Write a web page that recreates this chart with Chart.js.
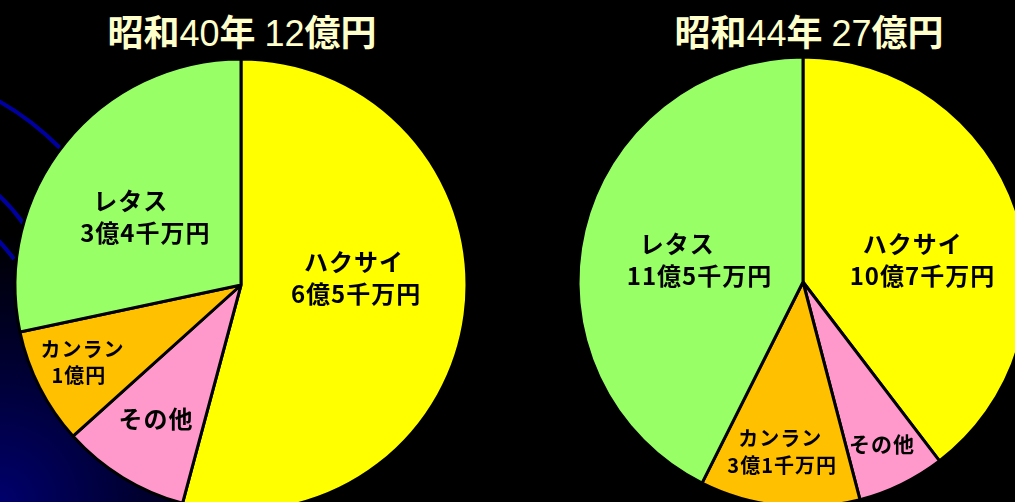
<!DOCTYPE html>
<html lang="ja">
<head>
<meta charset="utf-8">
<script src="https://cdn.jsdelivr.net/npm/chart.js@4.4.1/dist/chart.umd.min.js"></script>
<style>
    html, body { margin: 0; padding: 0; width: 1015px; height: 502px; overflow: hidden; background: #000; }
    body { position: relative; background: radial-gradient(circle at 0 100%, #00006c 0, #000030 140px, #000 270px); }
    .titulo { position: absolute; top: 7px; width: 400px; text-align: center; color: #ffffcc; font-size: 36px; line-height: 46px; white-space: nowrap; }
    .titulo b { font-family: "Noto Sans CJK JP"; font-weight: 700; }
    .titulo span { font-family: "Liberation Sans"; font-weight: 400; }
    canvas { position: absolute; }
    svg { position: absolute; left: 0; top: 0; }
</style>
</head>
<body>
<svg width="120" height="300">
    <path d="M -5 99 Q 30 118 60 148" stroke="#0000a0" stroke-width="4" fill="none" />
    <path d="M -5 192 Q 10 205 23 223" stroke="#0000a0" stroke-width="4" fill="none" />
    <path d="M -5 237 Q 5 247 14 259" stroke="#0000a0" stroke-width="4" fill="none" />
</svg>
<div class="titulo" id="Titulo40" style="left:42px"></div>
<div class="titulo" id="Titulo44" style="left:609px"></div>
<canvas id="Chart40" width="480" height="480" style="left:1px; top:45px"></canvas>
<canvas id="Chart44" width="480" height="480" style="left:563px; top:42px"></canvas>

<script>
//Datos (億円)
var categorias = ['ハクサイ', 'その他', 'カンラン', 'レタス'];
var ventas40 = [6.5, 1.1, 1.0, 3.4];
var ventas44 = [10.7, 1.7, 3.1, 11.5];
var anios = ['40', '44'];

var colores = ['#ffff00', '#ff99cc', '#ffc000', '#99ff66'];

// 6.5 -> 6億5千万円
function textoMonto(v) {
    var oku = Math.floor(v + 0.001);
    var sen = Math.round((v - oku) * 10);
    return sen > 0 ? oku + '億' + sen + '千万円' : oku + '億円';
}

function ponerTitulo(id, anio, valores) {
    var total = Math.round(valores.reduce(function (a, b) { return a + b; }, 0));
    document.getElementById(id).innerHTML =
        '<b>昭和</b><span>' + anio + '</span><b>年</b> <span>' + total + '</span><b>億円</b>';
}

ponerTitulo('Titulo40', anios[0], ventas40);
ponerTitulo('Titulo44', anios[1], ventas44);

//Etiquetas dentro de las porciones
var etiquetasPlugin = {
    id: 'etiquetas',
    afterDatasetsDraw: function (chart, args, opts) {
        var ctx = chart.ctx;
        var meta = chart.getDatasetMeta(0);
        var valores = chart.data.datasets[0].data;
        ctx.save();
        ctx.fillStyle = '#000';
        ctx.textAlign = 'left';
        ctx.textBaseline = 'middle';
        if ('letterSpacing' in ctx) ctx.letterSpacing = '1px';
        meta.data.forEach(function (arc, i) {
            var p = opts.posiciones[i];
            var ang = (arc.startAngle + arc.endAngle) / 2 + p.giro * Math.PI / 180;
            var r = arc.outerRadius * p.radio;
            var x = arc.x + Math.cos(ang) * r;
            var y = arc.y + Math.sin(ang) * r;
            var lineas = [chart.data.labels[i]];
            if (p.monto) lineas.push(textoMonto(valores[i]));
            if (p.sangria >= 0 && p.sangria < lineas.length) lineas[p.sangria] = '\u2002' + lineas[p.sangria];
            ctx.font = 'bold ' + p.tam + 'px "Noto Sans CJK JP"';
            var ancho = 0;
            lineas.forEach(function (l) { ancho = Math.max(ancho, ctx.measureText(l).width); });
            var alto = p.tam * 1.33;
            var y0 = y - (lineas.length - 1) * alto / 2;
            lineas.forEach(function (l, j) {
                ctx.fillText(l, x - ancho / 2, y0 + j * alto);
            });
        });
        ctx.restore();
    }
};

function crearPie(id, valores, radio, posiciones) {
    var ctx = document.getElementById(id).getContext('2d');
    return new Chart(ctx, {
        type: 'pie',
        data: {
            labels: categorias,
            datasets: [{
                data: valores,
                backgroundColor: colores,
                borderColor: '#000',
                borderWidth: 3
            }]
        },
        options: {
            responsive: false,
            animation: false,
            radius: radio,
            layout: { padding: 0 },
            plugins: {
                legend: { display: false },
                tooltip: { enabled: false },
                etiquetas: { posiciones: posiciones }
            }
        },
        plugins: [etiquetasPlugin]
    });
}

var chart40 = crearPie('Chart40', ventas40, 226, [
    { radio: 0.51, giro: -11, tam: 24, monto: true, sangria: 0 },
    { radio: 0.70, giro: 1, tam: 24, monto: false, sangria: -1 },
    { radio: 0.78, giro: 1, tam: 20, monto: true, sangria: 1 },
    { radio: 0.52, giro: -3.5, tam: 24, monto: true, sangria: 0 }
]);

var chart44 = crearPie('Chart44', ventas44, 225, [
    { radio: 0.54, giro: 8, tam: 24, monto: true, sangria: 0 },
    { radio: 0.80, giro: 0, tam: 21, monto: false, sangria: -1 },
    { radio: 0.76, giro: 1, tam: 20, monto: true, sangria: 0 },
    { radio: 0.47, giro: -1.5, tam: 24, monto: true, sangria: 0 }
]);
</script>
</body>
</html>
